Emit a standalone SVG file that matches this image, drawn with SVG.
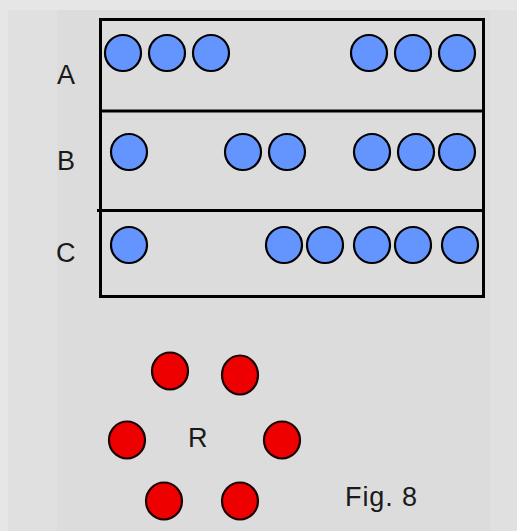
<svg xmlns="http://www.w3.org/2000/svg" width="517" height="531" viewBox="0 0 517 531">
<style>
.b{fill:#6495ff;stroke:#000;stroke-width:2.2}
.r{fill:#ee0000;stroke:#1a0000;stroke-width:2.2}
.t{font-family:"Liberation Sans",Arial,sans-serif;font-size:27px;fill:#1a1a1a}
.ln{stroke:#000;stroke-width:3;fill:none}
</style>
<rect x="0" y="0" width="517" height="531" fill="#e6e6e6"/>
<rect x="8" y="10" width="509" height="521" fill="#e0e0e0"/>
<rect x="57" y="10" width="433" height="521" fill="#dcdcdc"/>
<g id="frame">
<rect class="ln" x="100.5" y="19.5" width="383" height="277"/>
<line class="ln" x1="100" y1="111" x2="484" y2="111"/>
<line class="ln" x1="97" y1="210.5" x2="484" y2="210.5"/>
</g>
<g id="labels">
<text class="t" x="57" y="84">A</text>
<text class="t" x="57" y="170">B</text>
<text class="t" x="56" y="262">C</text>
<text class="t" x="188" y="447">R</text>
<text class="t" x="345" y="506" textLength="72">Fig. 8</text>
</g>
<g id="rowA">
<circle class="b" cx="123" cy="53" r="18"/>
<circle class="b" cx="167" cy="53" r="18"/>
<circle class="b" cx="211" cy="53" r="18"/>
<circle class="b" cx="369" cy="53" r="18"/>
<circle class="b" cx="413" cy="53" r="18"/>
<circle class="b" cx="457" cy="53" r="18"/>
</g>
<g id="rowB">
<circle class="b" cx="129" cy="152" r="18"/>
<circle class="b" cx="243" cy="152" r="18"/>
<circle class="b" cx="287" cy="152" r="18"/>
<circle class="b" cx="372" cy="152" r="18"/>
<circle class="b" cx="416" cy="152" r="18"/>
<circle class="b" cx="457" cy="152" r="18"/>
</g>
<g id="rowC">
<circle class="b" cx="129" cy="245" r="18"/>
<circle class="b" cx="284" cy="245" r="18"/>
<circle class="b" cx="325" cy="245" r="18"/>
<circle class="b" cx="372" cy="245" r="18"/>
<circle class="b" cx="413" cy="245" r="18"/>
<circle class="b" cx="460" cy="245" r="18"/>
</g>
<g id="ringR">
<ellipse class="r" cx="170" cy="371" rx="18" ry="18.5"/>
<ellipse class="r" cx="240" cy="375" rx="18" ry="19.5"/>
<ellipse class="r" cx="127" cy="440" rx="18" ry="18.5"/>
<ellipse class="r" cx="282" cy="440" rx="18" ry="18.5"/>
<ellipse class="r" cx="164" cy="501" rx="18" ry="18.5"/>
<ellipse class="r" cx="240" cy="501" rx="18" ry="18.5"/>
</g>
<g id="connectors"></g>
</svg>
